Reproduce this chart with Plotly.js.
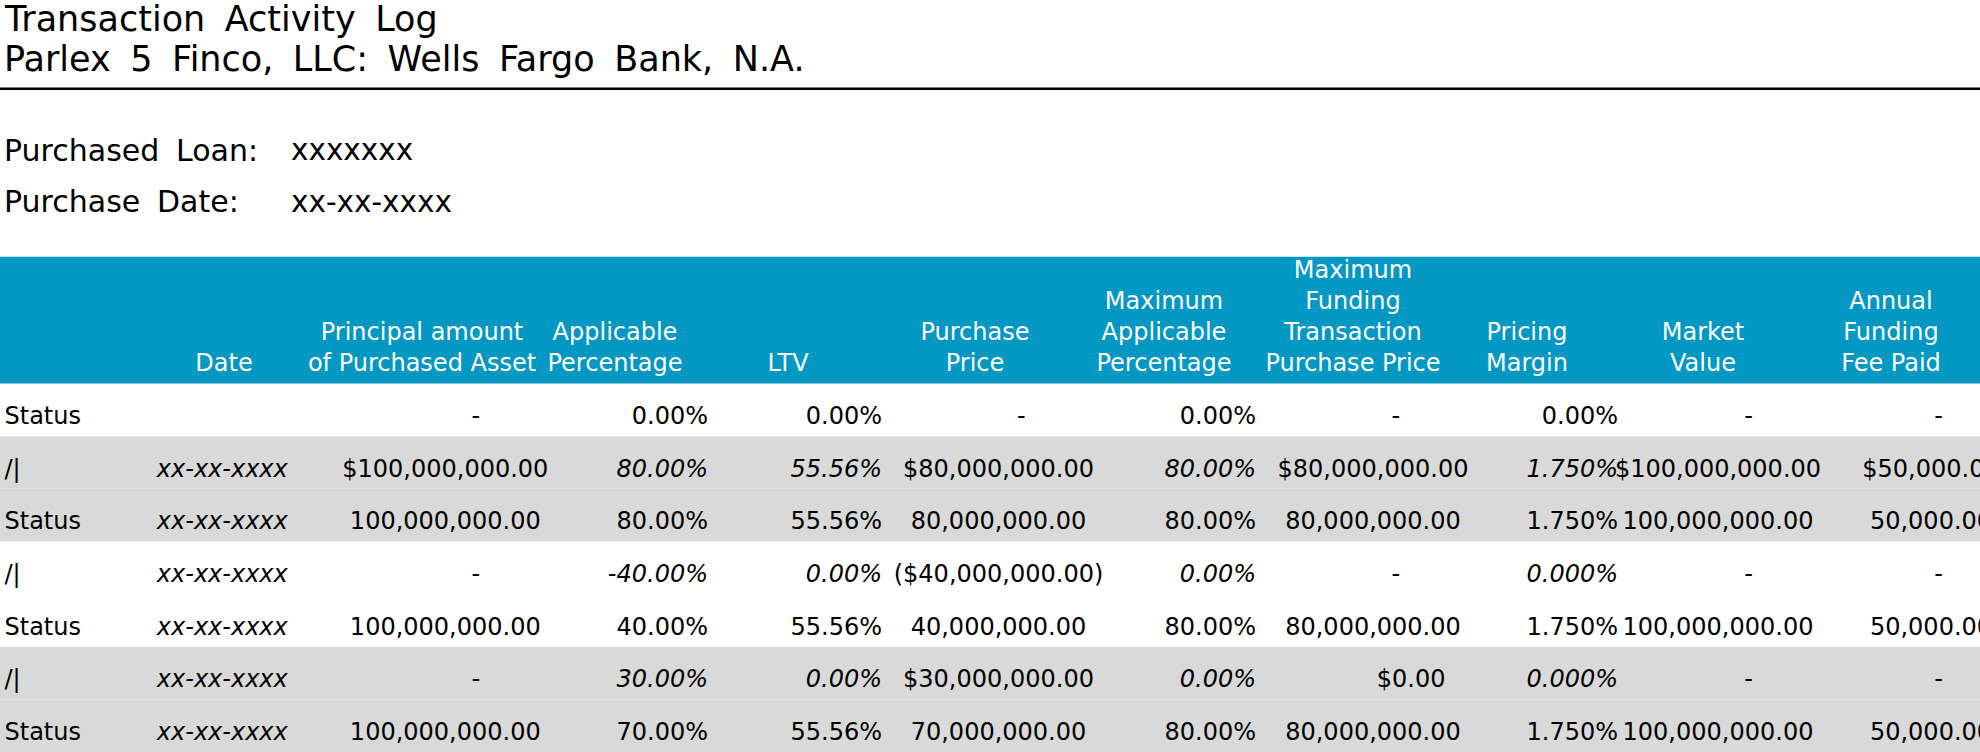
<!DOCTYPE html>
<html>
<head>
<meta charset="utf-8">
<script src="https://cdn.plot.ly/plotly-3.0.1.min.js"></script>
<style>
  html, body { margin: 0; padding: 0; background: #fff; }
  /* the heading block has wide gaps between words */
  .annotation-text { word-spacing: 0.24em; }
</style>
</head>
<body>
<div id="chart" style="width:1980px;height:752px;"></div>
<script>
const titleLines = ['Transaction Activity Log', 'Parlex 5 Finco, LLC: Wells Fargo Bank, N.A.'];
const loanLabel = 'Purchased Loan:';
const loanId = 'xxxxxxx';
const dateLabel = 'Purchase Date:';
const purchaseDate = 'xx-xx-xxxx';

const headers = ['', 'Date', 'Principal amount<br>of Purchased Asset', 'Applicable<br>Percentage', 'LTV',
  'Purchase<br>Price', 'Maximum<br>Applicable<br>Percentage', 'Maximum<br>Funding<br>Transaction<br>Purchase Price',
  'Pricing<br>Margin', 'Market<br>Value', 'Annual<br>Funding<br>Fee Paid'];

const rowLabels = ['Status', '/|', 'Status', '/|', 'Status', '/|', 'Status'];
const dates = ['', 'xx-xx-xxxx', 'xx-xx-xxxx', 'xx-xx-xxxx', 'xx-xx-xxxx', 'xx-xx-xxxx', 'xx-xx-xxxx'];
const principal = ['-', '$100,000,000.00', '100,000,000.00', '-', '100,000,000.00', '-', '100,000,000.00'];
const applicablePct = ['0.00%', '80.00%', '80.00%', '-40.00%', '40.00%', '30.00%', '70.00%'];
const ltv = ['0.00%', '55.56%', '55.56%', '0.00%', '55.56%', '0.00%', '55.56%'];
const purchasePrice = ['-', '$80,000,000.00', '80,000,000.00', '($40,000,000.00)', '40,000,000.00', '$30,000,000.00', '70,000,000.00'];
const maxApplicablePct = ['0.00%', '80.00%', '80.00%', '0.00%', '80.00%', '0.00%', '80.00%'];
const maxFundingPrice = ['-', '$80,000,000.00', '80,000,000.00', '-', '80,000,000.00', '$0.00', '80,000,000.00'];
const pricingMargin = ['0.00%', '1.750%', '1.750%', '0.000%', '1.750%', '0.000%', '1.750%'];
const marketValue = ['-', '$100,000,000.00', '100,000,000.00', '-', '100,000,000.00', '-', '100,000,000.00'];
const annualFee = ['-', '$50,000.00', '50,000.00', '-', '50,000.00', '-', '50,000.00'];

const shadedRows = [1, 2, 5, 6];

// ---- layout settings ----
const W = 1980, H = 752;
const px = v => v / W;
const py = v => 1 - v / H;
const headTopPx = 256.7, bodyTopPx = 383.5;
const textShift = 0.155;           // body text sits a little under the band centre

const columns = [rowLabels, dates, principal, applicablePct, ltv, purchasePrice,
  maxApplicablePct, maxFundingPrice, pricingMargin, marketValue, annualFee];
const pctCols = [3, 4, 6, 8];
const colAnchor = [4.5, 222.3, 445.3, 708, 882, 998.5, 1256, 1373, 1618, 1718, 1931];
const colAlign = ['left', 'center', 'center', 'right', 'right', 'center', 'right', 'center', 'right', 'center', 'center'];
const headAnchor = [0, 224, 422, 615, 788, 975, 1164, 1353, 1527, 1703, 1891];
const dashPad = [0, 0, 8, 0, 0, 6, 0, 6, 0, 8, 2];
const zeroPad = 10;
const NB = '\u00a0';
const posFor = {left: 'middle right', right: 'middle left', center: 'middle center'};

const nRows = rowLabels.length;
const rowIdx = rowLabels.map((_, i) => i);

function cellText(c, r) {
  let s = columns[c][r];
  if (s === '-') s = NB.repeat(dashPad[c]) + s;
  if (s === '$0.00') s = NB.repeat(zeroPad) + s;
  const italic = c === 1 || (pctCols.includes(c) && rowLabels[r] === '/|');
  return italic && s ? '<i>' + s + '</i>' : s;
}

const traces = columns.map((col, c) => ({
  type: 'scatter',
  mode: 'text',
  x: rowIdx.map(() => colAnchor[c]),
  y: rowIdx,
  yaxis: 'y2',
  text: rowIdx.map(r => cellText(c, r)),
  textposition: posFor[colAlign[c]],
  textfont: {family: 'DejaVu Sans', size: 24, color: '#000'},
  hoverinfo: 'skip'
}));

traces.push({
  type: 'scatter',
  mode: 'text',
  x: headAnchor.slice(1),
  y: headAnchor.slice(1).map(() => 0),
  yaxis: 'y3',
  text: headers.slice(1),
  textposition: 'top center',
  textfont: {family: 'DejaVu Sans', size: 24, color: '#fff'},
  cliponaxis: false,
  hoverinfo: 'skip'
});

const shapes = [
  {type: 'rect', xref: 'paper', yref: 'paper', x0: 0, x1: 1, y0: py(bodyTopPx), y1: py(headTopPx),
   fillcolor: '#0397c3', line: {width: 0}, layer: 'below'},
  {type: 'line', xref: 'paper', yref: 'paper', x0: 0, x1: 1, y0: py(88.7), y1: py(88.7),
   line: {color: '#000', width: 2.5}}
].concat(shadedRows.map(r => ({
  type: 'rect', xref: 'paper', yref: 'y', x0: 0, x1: 1, y0: r - 0.5, y1: r + 0.5,
  fillcolor: '#d9d9d9', line: {width: 0}, layer: 'below'
})));

// top of the text box = baseline - ascent (0.928 em) - 1px pad
function note(text, x, baseline, size) {
  return {text: text, xref: 'paper', yref: 'paper', x: px(x), y: py(baseline - 1 - 0.928 * size),
    xanchor: 'left', yanchor: 'top', showarrow: false,
    font: {family: 'DejaVu Sans', size: size, color: '#000'}};
}

const annotations = [
  note(titleLines[0], 1.5, 30, 35),
  note(titleLines[1], 1.5, 70, 35),
  note(loanLabel, 2, 159.5, 30),
  note(loanId, 289, 159.5, 29.5),
  note(dateLabel, 2, 211, 30),
  note(purchaseDate, 289, 211, 29.5)
];

const layout = {
  width: W, height: H,
  margin: {l: 0, r: 0, t: 0, b: 0, pad: 0},
  paper_bgcolor: '#fff',
  plot_bgcolor: 'rgba(0,0,0,0)',
  showlegend: false,
  font: {family: 'DejaVu Sans', size: 24, color: '#000'},
  xaxis: {range: [0, W], visible: false, fixedrange: true},
  yaxis: {domain: [0, py(bodyTopPx)], range: [nRows - 0.5, -0.5], visible: false, fixedrange: true},
  yaxis2: {overlaying: 'y', range: [nRows - 0.5 - textShift, -0.5 - textShift], visible: false, fixedrange: true},
  yaxis3: {domain: [py(bodyTopPx), py(headTopPx)], range: [-0.05, 0.95], visible: false, fixedrange: true},
  shapes: shapes,
  annotations: annotations
};

Plotly.newPlot('chart', traces, layout, {displayModeBar: false, staticPlot: true});
</script>
</body>
</html>
